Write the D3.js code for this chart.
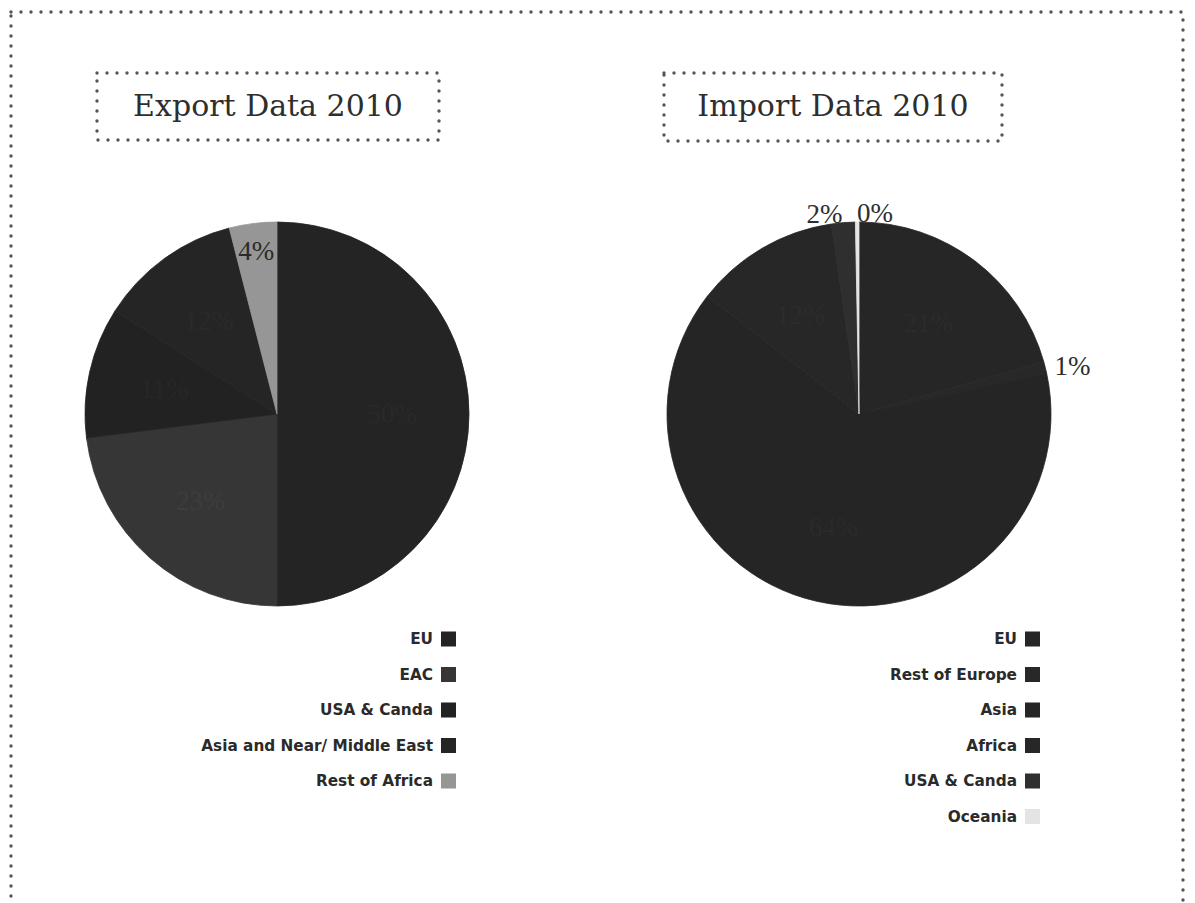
<!DOCTYPE html>
<html>
<head>
<meta charset="utf-8">
<script src="https://cdn.jsdelivr.net/npm/d3@7"></script>
<style>
  body { margin: 0; background: #fff; }
  .title { font-family: "DejaVu Serif", serif; font-size: 30px; fill: #2e2e2e; }
  .legend text { font-family: "DejaVu Sans", sans-serif; font-weight: bold; font-size: 15.3px; fill: #2a2a2a; }
  .slice-label { font-family: "Liberation Serif", serif; font-size: 27px; }
</style>
</head>
<body>
<div id="chart"></div>
<script>
const exportCategories = ["EU", "EAC", "USA & Canda", "Asia and Near/ Middle East", "Rest of Africa"];
const exportValues = [50, 23, 11, 12, 4];

const importCategories = ["EU", "Rest of Europe", "Asia", "Africa", "USA & Canda", "Oceania"];
const importValues = [20.6, 1.0, 63.9, 12.2, 2.0, 0.3];

const exportPalette = ["#242424", "#363636", "#222222", "#252525", "#969696"];
const importPalette = ["#262626", "#282828", "#252525", "#272727", "#2f2f2f", "#e4e4e4"];

const width = 1195;
const height = 903;

const svg = d3.select("#chart")
  .append("svg")
  .attr("width", width)
  .attr("height", height);

// dotted frame
function dottedRect(g, x, y, w, h) {
  g.append("rect")
    .attr("x", x).attr("y", y)
    .attr("width", w).attr("height", h)
    .attr("fill", "none")
    .attr("stroke", "#555")
    .attr("stroke-width", 3.4)
    .attr("stroke-linecap", "round")
    .attr("stroke-dasharray", "0 10");
}

dottedRect(svg, 11, 12, 1172, 910);

const panels = [
  {
    title: "Export Data 2010", categories: exportCategories, values: exportValues, palette: exportPalette,
    box: { x: 97, y: 73, w: 342, h: 67 }, cx: 277, legendRight: 433
  },
  {
    title: "Import Data 2010", categories: importCategories, values: importValues, palette: importPalette,
    box: { x: 664, y: 73, w: 338, h: 68 }, cx: 859, legendRight: 1017
  }
];

const radius = 192;
const cy = 414;
const swatch = 15;
const rowStep = 35.5;
const legendTop = 639;

panels.forEach(p => {
  const g = svg.append("g");

  dottedRect(g, p.box.x, p.box.y, p.box.w, p.box.h);
  g.append("text")
    .attr("class", "title")
    .attr("x", p.box.x + p.box.w / 2)
    .attr("y", p.box.y + 43)
    .attr("text-anchor", "middle")
    .text(p.title);

  const data = p.categories.map((c, i) => ({ category: c, value: p.values[i] }));
  const color = d3.scaleOrdinal().domain(p.categories).range(p.palette);

  const pie = d3.pie().sort(null).value(d => d.value);
  const arc = d3.arc().innerRadius(0).outerRadius(radius);
  const arcs = pie(data);

  const pieG = g.append("g").attr("transform", `translate(${p.cx}, ${cy})`);

  pieG.selectAll("path")
    .data(arcs)
    .join("path")
    .attr("d", arc)
    .attr("fill", d => color(d.data.category))
    .attr("stroke", d => color(d.data.category))
    .attr("stroke-width", 0.8);

  // big slices: label well inside, middling near the rim, tiny ones outside
  const labelPos = d => {
    const mid = (d.startAngle + d.endAngle) / 2;
    const r = d.data.value >= 10 ? radius * 0.6 : d.data.value >= 3 ? radius * 0.86 : radius * 1.05;
    return [r * Math.sin(mid), -r * Math.cos(mid), mid];
  };

  pieG.selectAll("text")
    .data(arcs)
    .join("text")
    .attr("class", "slice-label")
    .attr("x", d => labelPos(d)[0])
    .attr("y", d => labelPos(d)[1])
    .attr("dy", "0.35em")
    .attr("text-anchor", d => {
      if (d.data.value >= 3) return "middle";
      return Math.sin(labelPos(d)[2]) >= -0.02 ? "start" : "end";
    })
    .attr("fill", d => {
      const c = d3.color(color(d.data.category));
      if (d.data.value < 3) return "#2e2e2e";
      return d3.hsl(c).l > 0.4 ? "#2a2a2a" : c.brighter(0.35).formatHex();
    })
    .text(d => `${Math.round(d.data.value)}%`);

  // legend, text right aligned before the swatch
  const legend = g.append("g").attr("class", "legend");
  const rows = legend.selectAll("g")
    .data(data)
    .join("g")
    .attr("transform", (d, i) => `translate(${p.legendRight}, ${legendTop + i * rowStep})`);

  rows.append("text")
    .attr("x", 0)
    .attr("dy", "0.35em")
    .attr("text-anchor", "end")
    .text(d => d.category);

  rows.append("rect")
    .attr("x", 8)
    .attr("y", -swatch / 2)
    .attr("width", swatch)
    .attr("height", swatch)
    .attr("fill", d => color(d.category));
});
</script>
</body>
</html>
